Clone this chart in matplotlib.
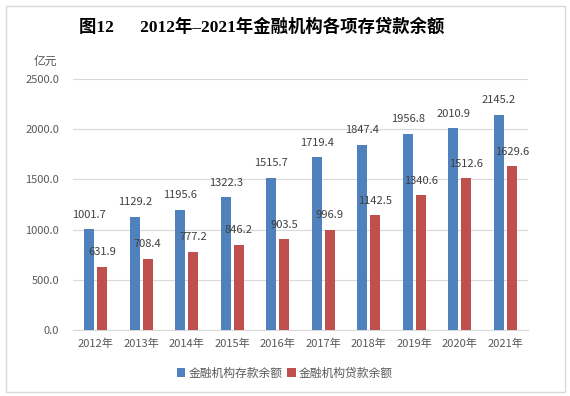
import numpy as np
import matplotlib.pyplot as plt
from matplotlib.patches import Rectangle

plt.rcParams['font.family'] = ['Noto Sans CJK SC', 'DejaVu Sans']

# --- DATA ---
years = ['2012年', '2013年', '2014年', '2015年', '2016年',
         '2017年', '2018年', '2019年', '2020年', '2021年']
deposits = [1001.7, 1129.2, 1195.6, 1322.3, 1515.7, 1719.4, 1847.4, 1956.8, 2010.9, 2145.2]
loans = [631.9, 708.4, 777.2, 846.2, 903.5, 996.9, 1142.5, 1340.6, 1512.6, 1629.6]
y_ticks = [0, 500, 1000, 1500, 2000, 2500]

blue = '#4F81BD'
red = '#C0504D'
txt = '#404040'

fig = plt.figure(figsize=(5.7, 3.96), dpi=100)
fig.patch.set_facecolor('white')
# Rahmen um das ganze Bild
fig.patches.append(Rectangle((6 / 570, 4 / 396), 559 / 570, 386 / 396, transform=fig.transFigure,
                             fill=False, edgecolor='#D9D9D9', linewidth=1.0))

ax = fig.add_axes([73 / 570, 1 - 330 / 396, 455 / 570, 251 / 396])

x = np.arange(len(years))
w = 0.22
off = 0.143
b1 = ax.bar(x - off, deposits, w, color=blue, label='金融机构存款余额', zorder=3)
b2 = ax.bar(x + off, loans, w, color=red, label='金融机构贷款余额', zorder=3)

for rect, v in zip(b1, deposits):
    ax.text(rect.get_x() + rect.get_width() / 2, v + 145, f'{v:.1f}',
            ha='center', va='center', fontsize=8, color=txt, zorder=4)
for rect, v in zip(b2, loans):
    ax.text(rect.get_x() + rect.get_width() / 2, v + 145, f'{v:.1f}',
            ha='center', va='center', fontsize=8, color=txt, zorder=4)

ax.set_xlim(-0.5, len(years) - 0.5)
ax.set_ylim(0, 2500)
ax.set_yticks(y_ticks)
ax.set_yticklabels([f'{t:.1f}' for t in y_ticks], fontsize=8, color='#595959')
ax.set_xticks(x)
ax.set_xticklabels(years, fontsize=8, color='#595959')
ax.tick_params(axis='x', length=0, pad=6)
ax.tick_params(axis='y', length=0, pad=10)
ax.grid(axis='y', color='#D9D9D9', linewidth=0.8, zorder=0)
for s in ['top', 'right', 'left']:
    ax.spines[s].set_visible(False)
ax.spines['bottom'].set_color('#D9D9D9')

fig.text(45 / 570, 1 - 61 / 396, '亿元', fontsize=8.5, color='#595959', ha='center', va='center')

fig.text(262 / 570, 1 - 27 / 396, '图12      2012年–2021年金融机构各项存贷款余额',
         fontsize=12.5, fontweight='bold', ha='center', va='center', color='black',
         family=['Liberation Serif', 'Noto Sans CJK SC'])

fig.legend(loc='center', bbox_to_anchor=(285 / 570, 1 - 373 / 396), ncol=2, frameon=False,
           fontsize=8.5, handlelength=0.7, handleheight=0.7, handletextpad=0.3,
           columnspacing=0.4, labelcolor='#595959')

fig.savefig('out.png', dpi=100)
